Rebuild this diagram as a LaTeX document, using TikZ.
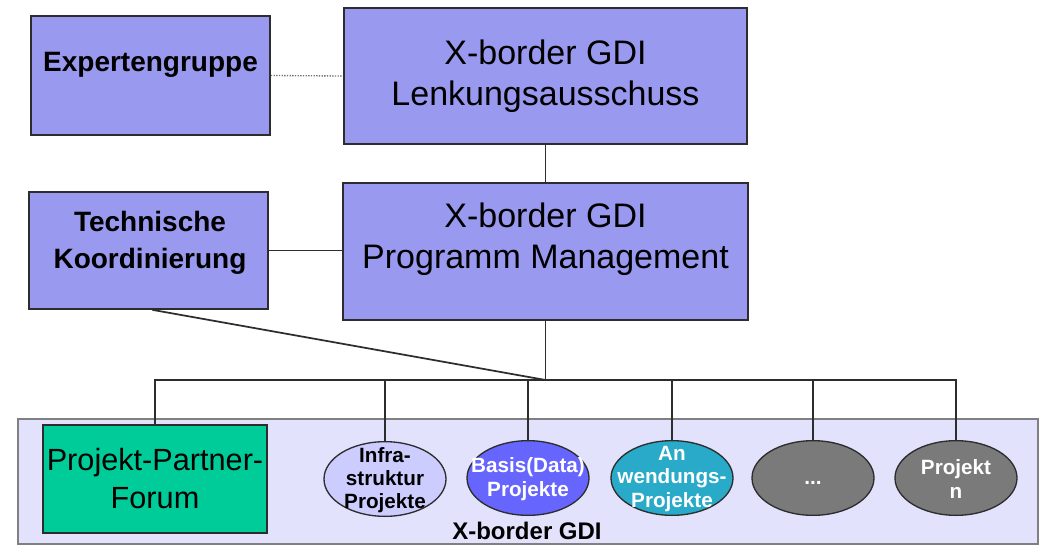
\documentclass[tikz,border=0pt]{standalone}
\usepackage{fontspec}
\setmainfont{Liberation Sans}
\usepackage{tikz}
\usetikzlibrary{positioning,shapes.geometric}

\definecolor{boxblue}{RGB}{153,153,240}
\definecolor{bandlilac}{RGB}{226,226,252}
\definecolor{forumgreen}{RGB}{0,204,153}
\definecolor{infralilac}{RGB}{204,204,255}
\definecolor{basisblue}{RGB}{102,102,255}
\definecolor{anwteal}{RGB}{40,170,200}
\definecolor{projgray}{RGB}{122,122,122}
\definecolor{linegray}{RGB}{45,45,45}

\begin{document}
\begin{tikzpicture}[x=0.75pt,y=0.75pt,yscale=-1,
  orgbox/.style={draw=linegray,line width=1.3pt,fill=boxblue,inner sep=0pt},
  projoval/.style={ellipse,draw=linegray,line width=1pt,inner sep=0pt,minimum width=91.5pt,minimum height=56pt},
  conn/.style={draw=linegray,line width=1.3pt},
  bigtext/.style={align=center,font=\fontsize{25.5}{31}\selectfont},
  sidetext/.style={align=center,font=\bfseries\fontsize{21}{27.5}\selectfont},
  ovaltext/.style={align=center,font=\bfseries\fontsize{15.5}{17.5}\selectfont}]
\useasboundingbox (0,0) rectangle (1039,546);

%Shape: band of the projects
\draw [draw=gray,line width=1.2pt,fill=bandlilac] (18,419) rectangle (1038,544) ;

%Boxes
\node [orgbox,minimum width=179.25pt,minimum height=89.25pt] (exp) at (150.5,75.5) {};
\node [orgbox,bigtext,minimum width=302.25pt,minimum height=102pt] (lenk) at (545.5,76) {X-border GDI\\Lenkungsausschuss};
\node [orgbox,minimum width=179.25pt,minimum height=87.75pt] (tech) at (148.5,250.5) {};
\node [orgbox,minimum width=303.75pt,minimum height=102.75pt] (prog) at (545.5,251.5) {};
\node [orgbox,fill=forumgreen,align=center,font=\fontsize{23}{28.5}\selectfont,minimum width=168pt,minimum height=81pt] (forum) at (155,479) {Projekt-Partner-\\Forum};

%Ovals
\node [projoval,fill=infralilac] (infra) at (385,479) {};
\node [projoval,fill=basisblue] (basis) at (528,478) {};
\node [projoval,fill=anwteal] (anw) at (672,478) {};
\node [projoval,fill=projgray] (dots) at (813,478) {};
\node [projoval,fill=projgray] (projn) at (956,478) {};

%Connectors
\coordinate (hub) at (545.5,380);
\draw [densely dotted,draw=gray!90!black,line width=1pt] (exp.east) -- (lenk.west) ;
\draw [conn] (lenk.south) -- (prog.north) ;
\draw [conn] (tech.east) -- (tech.east -| prog.west) ;
\draw [conn] (prog.south) -- (hub) ;
\draw [conn] ([xshift=3pt]tech.south) -- (hub) ;
\draw [conn] (forum.north) |- (hub) -| (projn.north) ;
\foreach \p in {infra,basis,anw,dots}
  \draw [conn] (\p.north) -- (\p.north |- hub) ;

% Text Node
\node [sidetext] (expT) at (150.5,65) {Expertengruppe};
% Text Node
\node [sidetext] (techT) at (150,243) {Technische\\Koordinierung};
% Text Node
\node [bigtext] (progT) at (545.5,239) {X-border GDI\\Programm Management};
% Text Node
\node [ovaltext] (infraT) at (385,480) {Infra-\\struktur\\Projekte};
% Text Node
\node [ovaltext,text=white] (basisT) at (528,479) {Basis(Data)\\Projekte};
% Text Node
\node [ovaltext,text=white] (anwT) at (672,479) {An\\wendungs-\\Projekte};
% Text Node
\node [ovaltext,text=white] (dotsT) at (813,483) {...};
% Text Node
\node [ovaltext,text=white] (projnT) at (956,479) {Projekt\\n};
% Text Node
\node [font=\bfseries\fontsize{18}{22}\selectfont] (bandT) at (527,531) {X-border GDI};

\end{tikzpicture}
\end{document}
